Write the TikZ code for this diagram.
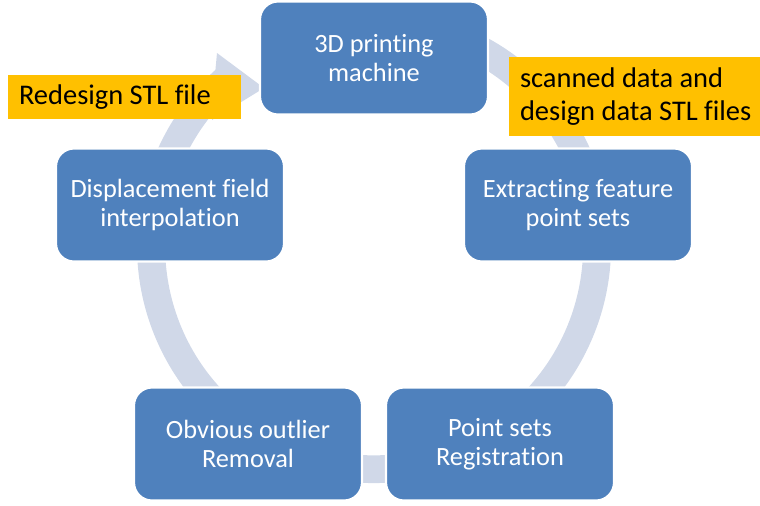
\documentclass[tikz,border=0pt]{standalone}
\usepackage{fontspec}
\setmainfont{Carlito}[RawFeature={-liga;-clig;-calt}]
\usetikzlibrary{positioning}
\definecolor{boxblue}{RGB}{79,129,189}
\definecolor{ringgray}{RGB}{208,216,232}
\definecolor{tagorange}{RGB}{255,192,0}
\tikzset{
  box/.style={draw=white,line width=1.2pt,fill=boxblue,rounded corners=0.36cm,
    minimum width=4.56cm,minimum height=2.26cm,align=center,text=white,
    font=\fontsize{15}{16.5}\selectfont},
  tag/.style={fill=tagorange,align=flush left,inner xsep=0.22cm,inner ysep=0pt,
    font=\fontsize{16.2}{18.8}\selectfont},
  ring/.style={fill=ringgray},
}

\begin{document}
\begin{tikzpicture}[x=0.02cm,y=-0.02cm]
  \useasboundingbox (0,0) rectangle (760,505);
  % circular arrow behind the steps
  \fill[ring] (477.9,33) arc[start angle=-64,end angle=228,radius=237]
    -- (217,53) -- (264,88) -- (212,120) -- (214,112)
    arc[start angle=220,end angle=-64,radius=209] -- cycle;
  \node[box] (print) at (374,58) {3D printing\\ machine};
  \node[box] (extract) at (578,205) {Extracting feature\\ point sets};
  \node[box] (regist) at (500,444) {Point sets\\ Registration};
  \node[box] (outlier) at (248,444) {Obvious outlier\\ Removal};
  \node[box] (displace) at (170,205) {Displacement field\\ interpolation};
  \node[tag,text width=4.22cm,minimum height=0.88cm] (redesign) at (124.5,97)
    {Redesign STL file};
  \node[tag,text width=4.8cm,minimum height=1.58cm] (scanned) at (640,96.5)
    {scanned data and\\ design data STL files};
\end{tikzpicture}
\end{document}
